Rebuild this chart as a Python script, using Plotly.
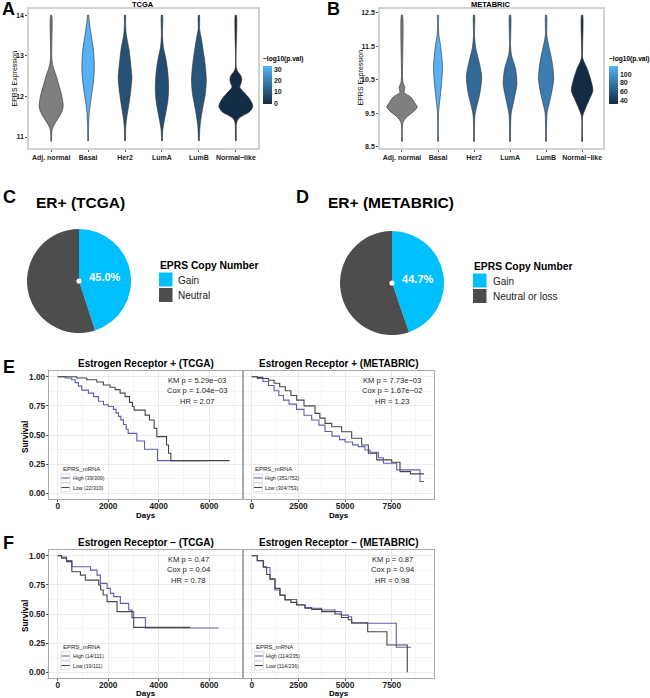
import plotly.graph_objects as go
from plotly.colors import sample_colorscale

W, H = 650, 698
FONT = "Liberation Sans, Arial, Helvetica, sans-serif"


def X(px):
    return px / W


def Y(py):
    return 1 - py / H


# ------------------------------------------------------------------ data
subtypes = ["Adj. normal", "Basal", "Her2", "LumA", "LumB", "Normal−like"]
tcga_logp = [None, 33.3, 9.0, 8.0, 10.0, -0.8]
metabric_logp = [None, 119.0, 72.0, 76.0, 85.0, 31.5]

# violin outlines: expression levels and half-widths
tcga_levels = [
    [10.89, 11.1, 11.2, 11.3, 11.42, 11.55, 11.65, 11.76, 11.9, 12.0, 12.15, 12.3, 12.48, 12.65, 12.83, 13.0, 14.0],
    [10.9, 11.3, 11.58, 11.83, 12.07, 12.4, 12.73, 13.14, 13.55, 13.85, 14.0],
    [10.9, 11.26, 11.5, 11.75, 12.07, 12.45, 12.73, 13.14, 13.55, 13.8, 14.0],
    [10.9, 11.2, 11.4, 11.66, 11.9, 12.2, 12.57, 12.9, 13.2, 13.5, 14.0],
    [10.9, 11.26, 11.5, 11.75, 12.07, 12.4, 12.73, 13.05, 13.4, 13.65, 14.0],
    [10.9, 11.3, 11.38, 11.46, 11.54, 11.63, 11.76, 11.94, 12.07, 12.23, 12.32, 12.42, 12.52, 12.6, 12.7, 14.0],
]
tcga_widths = [
    [0.012, 0.015, 0.03, 0.08, 0.16, 0.25, 0.3, 0.325, 0.31, 0.29, 0.25, 0.2, 0.145, 0.08, 0.03, 0.015, 0.012],
    [0.012, 0.015, 0.03, 0.063, 0.1, 0.15, 0.17, 0.145, 0.077, 0.03, 0.012],
    [0.012, 0.02, 0.05, 0.095, 0.145, 0.185, 0.16, 0.11, 0.03, 0.015, 0.012],
    [0.012, 0.025, 0.063, 0.117, 0.16, 0.18, 0.16, 0.11, 0.04, 0.015, 0.012],
    [0.012, 0.03, 0.063, 0.11, 0.175, 0.2, 0.175, 0.13, 0.07, 0.02, 0.012],
    [0.012, 0.015, 0.03, 0.08, 0.22, 0.38, 0.46, 0.37, 0.25, 0.105, 0.14, 0.16, 0.13, 0.06, 0.015, 0.012],
]
metabric_levels = [
    [8.65, 9.15, 9.25, 9.38, 9.53, 9.68, 9.83, 9.98, 10.12, 10.27, 10.4, 10.6, 12.43],
    [8.65, 9.5, 9.72, 10.12, 10.5, 10.9, 11.13, 11.53, 11.83, 12.1, 12.43],
    [8.65, 9.43, 9.73, 10.03, 10.38, 10.63, 11.03, 11.43, 11.8, 12.43],
    [8.65, 9.48, 9.73, 10.03, 10.38, 10.83, 11.23, 11.5, 12.43],
    [8.65, 9.53, 9.78, 10.13, 10.53, 11.03, 11.43, 11.83, 12.43],
    [8.65, 9.4, 9.48, 9.68, 9.93, 10.18, 10.48, 10.83, 11.13, 11.4, 12.43],
]
metabric_widths = [
    [0.012, 0.015, 0.04, 0.125, 0.3, 0.42, 0.34, 0.245, 0.06, 0.08, 0.03, 0.015, 0.012],
    [0.012, 0.015, 0.033, 0.074, 0.107, 0.125, 0.11, 0.07, 0.025, 0.013, 0.012],
    [0.012, 0.025, 0.08, 0.15, 0.2, 0.21, 0.14, 0.05, 0.015, 0.012],
    [0.012, 0.03, 0.075, 0.135, 0.19, 0.15, 0.04, 0.015, 0.012],
    [0.012, 0.03, 0.083, 0.157, 0.21, 0.167, 0.09, 0.02, 0.012],
    [0.012, 0.015, 0.035, 0.107, 0.21, 0.3, 0.245, 0.14, 0.02, 0.014, 0.012],
]
tcga_expr_ticks = [11, 12, 13, 14]
metabric_expr_ticks = [8.5, 9.5, 10.5, 11.5, 12.5]
tcga_cbar_ticks = [0, 10, 20, 30]
metabric_cbar_ticks = [40, 60, 80, 100]

# copy number pies
cn_labels_tcga = ["Gain", "Neutral"]
cn_share_tcga = [45.0, 55.0]
cn_labels_metabric = ["Gain", "Neutral or loss"]
cn_share_metabric = [44.7, 55.3]

# Kaplan-Meier curves (days, survival)
e_tcga_high_t = [0, 300, 555, 690, 820, 952, 1216, 1415, 1613, 1811, 2009, 2208, 2313, 2406, 2499, 2604, 2710, 2790, 3133, 3437, 3953, 5909]
e_tcga_high_s = [1.0, 0.99, 0.975, 0.95, 0.92, 0.886, 0.86, 0.83, 0.79, 0.76, 0.745, 0.72, 0.69, 0.66, 0.63, 0.59, 0.55, 0.514, 0.449, 0.377, 0.28, 0.28]
e_tcga_low_t = [0, 754, 1150, 1547, 1811, 2075, 2274, 2472, 2670, 2842, 2961, 3027, 3464, 3635, 3821, 3926, 4310, 4390, 4480, 6808]
e_tcga_low_s = [1.0, 0.99, 0.975, 0.955, 0.93, 0.91, 0.89, 0.86, 0.83, 0.78, 0.745, 0.714, 0.671, 0.629, 0.557, 0.486, 0.414, 0.343, 0.28, 0.28]

e_meta_high_t = [0, 300, 600, 900, 1200, 1450, 1700, 2000, 2400, 2800, 3212, 3600, 3924, 4300, 4700, 5000, 5400, 5707, 6065, 6335, 6780, 7048, 7762, 9010, 9224]
e_meta_high_s = [1.0, 0.985, 0.96, 0.925, 0.88, 0.84, 0.80, 0.765, 0.72, 0.67, 0.629, 0.585, 0.53, 0.49, 0.46, 0.44, 0.415, 0.40, 0.371, 0.352, 0.305, 0.257, 0.2, 0.1, 0.1]
e_meta_low_t = [0, 300, 600, 900, 1200, 1500, 1800, 2100, 2409, 2800, 3389, 3650, 3924, 4283, 4818, 5353, 5889, 6246, 6692, 7495, 7940, 8500, 9224]
e_meta_low_s = [1.0, 0.995, 0.985, 0.97, 0.945, 0.915, 0.88, 0.84, 0.80, 0.75, 0.686, 0.645, 0.60, 0.571, 0.528, 0.472, 0.414, 0.343, 0.286, 0.266, 0.185, 0.166, 0.166]

f_tcga_high_t = [0, 150, 350, 560, 1300, 1558, 1690, 1954, 2086, 2218, 2482, 2812, 2944, 3010, 3472, 6376]
f_tcga_high_s = [1.0, 0.99, 0.96, 0.906, 0.877, 0.834, 0.763, 0.72, 0.677, 0.649, 0.591, 0.534, 0.52, 0.469, 0.38, 0.38]
f_tcga_low_t = [0, 150, 350, 560, 900, 1096, 1624, 1700, 1800, 1954, 2350, 2944, 3010, 5250]
f_tcga_low_s = [1.0, 0.98, 0.95, 0.863, 0.834, 0.791, 0.749, 0.706, 0.663, 0.606, 0.52, 0.469, 0.385, 0.385]

f_meta_high_t = [0, 300, 621, 980, 1247, 1515, 1783, 2409, 2853, 3212, 3747, 4459, 4800, 5171, 5353, 7740, 8530]
f_meta_high_s = [1.0, 0.955, 0.9, 0.8, 0.706, 0.66, 0.625, 0.58, 0.555, 0.55, 0.534, 0.52, 0.49, 0.477, 0.42, 0.214, 0.214]
f_meta_low_t = [0, 300, 621, 800, 980, 1247, 1515, 1783, 2100, 2409, 2853, 3212, 3747, 4459, 4800, 5171, 5353, 6210, 7240, 8330]
f_meta_low_s = [1.0, 0.96, 0.906, 0.84, 0.8, 0.72, 0.663, 0.62, 0.6, 0.577, 0.55, 0.54, 0.52, 0.5, 0.47, 0.45, 0.425, 0.348, 0.234, 0.0]

km_titles = ["Estrogen Receptor + (TCGA)", "Estrogen Receptor + (METABRIC)",
             "Estrogen Receptor − (TCGA)", "Estrogen Receptor − (METABRIC)"]
km_stats = [
    ["KM p = 5.29e−03", "Cox p = 1.04e−03", "HR = 2.07"],
    ["KM p = 7.73e−03", "Cox p = 1.67e−02", "HR = 1.23"],
    ["KM p = 0.47", "Cox p = 0.04", "HR = 0.78"],
    ["KM p = 0.87", "Cox p = 0.94", "HR = 0.98"],
]
km_legends = [
    ["High (39/309)", "Low (22/310)"],
    ["High (351/752)", "Low (304/753)"],
    ["High (14/111)", "Low (19/111)"],
    ["High (114/235)", "Low (114/236)"],
]
tcga_day_ticks = [0, 2000, 4000, 6000]
meta_day_ticks = [0, 2500, 5000, 7500]
surv_ticks = [0, 0.25, 0.5, 0.75, 1.0]

# ------------------------------------------------------------------ styles
GRAD = [[0, "#132B43"], [1, "#56B1F7"]]
NA_GREY = "#7F7F7F"
GAIN = "#00BFFF"
NEUTRAL = "#4D4D4D"
HIGH_COL = "#5F5FAF"
LOW_COL = "#474747"

fig = go.Figure()
annotations = []
shapes = []


def text(x, y, s, size, bold=False, color="#000000", xanchor="center", yanchor="middle", angle=0):
    annotations.append(dict(
        x=X(x), y=Y(y), xref="paper", yref="paper", text=s, showarrow=False,
        font=dict(family=FONT, size=size, color=color, weight="bold" if bold else "normal"),
        xanchor=xanchor, yanchor=yanchor, textangle=angle, borderpad=0))


# ------------------------------------------------------------------ violins
def violin_panel(levels, widths, logp, xa, ya, cbar_left, cbar_ticks):
    vals = [v for v in logp if v is not None]
    vmin, vmax = min(vals), max(vals)
    for i, (ys, ws) in enumerate(zip(levels, widths)):
        if logp[i] is None:
            col = NA_GREY
        else:
            col = sample_colorscale(GRAD, [(logp[i] - vmin) / (vmax - vmin)])[0]
        xs = [i + w for w in ws] + [i - w for w in reversed(ws)]
        yy = list(ys) + list(reversed(ys))
        fig.add_trace(go.Scatter(
            x=xs, y=yy, mode="lines", fill="toself", fillcolor=col,
            line=dict(color="#2b2b2b", width=0.6, shape="spline", smoothing=0.8),
            xaxis=xa, yaxis=ya, hoverinfo="skip", showlegend=False))
    idx = [i for i, v in enumerate(logp) if v is not None]
    fig.add_trace(go.Scatter(
        x=idx, y=[levels[i][0] for i in idx], mode="markers",
        marker=dict(color=[logp[i] for i in idx], colorscale=GRAD, opacity=0, size=1,
                    showscale=True,
                    colorbar=dict(
                        title=dict(text="−log10(p.val)", side="top",
                                   font=dict(family=FONT, size=6.6, weight="bold")),
                        x=X(cbar_left), xanchor="left", y=Y(53), yanchor="top",
                        len=51 / H, lenmode="fraction", thickness=9, thicknessmode="pixels",
                        outlinewidth=0, tickvals=cbar_ticks, ticks="", xpad=0, ypad=0,
                        tickfont=dict(family=FONT, size=7, weight="bold", color="#222"))),
        xaxis=xa, yaxis=ya, hoverinfo="skip", showlegend=False))


violin_panel(tcga_levels, tcga_widths, tcga_logp, "x", "y", 263, tcga_cbar_ticks)
violin_panel(metabric_levels, metabric_widths, metabric_logp, "x2", "y2", 609, metabric_cbar_ticks)

vax = dict(showline=True, mirror=True, linecolor="#D3D3D3", linewidth=1.5, ticks="outside",
           ticklen=2, tickcolor="#555", showgrid=False, zeroline=False, automargin=False,
           tickfont=dict(family=FONT, size=7, weight="bold", color="#222"))
layout_axes = {}
layout_axes["xaxis"] = dict(vax, domain=[X(29), X(258)], range=[-0.6, 5.6], tickvals=list(range(6)),
                            ticktext=subtypes, anchor="y")
layout_axes["yaxis"] = dict(vax, domain=[Y(148), Y(9)], range=[10.73, 14.15], tickvals=tcga_expr_ticks,
                            anchor="x")
layout_axes["xaxis2"] = dict(vax, domain=[X(380), X(603)], range=[-0.61, 5.58], tickvals=list(range(6)),
                             ticktext=subtypes, anchor="y2")
layout_axes["yaxis2"] = dict(vax, domain=[Y(148), Y(9)], range=[8.46, 12.61], tickvals=metabric_expr_ticks,
                             ticktext=[f"{v:.1f}" for v in metabric_expr_ticks], anchor="x2")

text(143, 4.5, "TCGA", 7.5, bold=True)
text(491, 4.5, "METABRIC", 7.5, bold=True)
text(14.5, 78, "EPRS Expression", 7, angle=-90)
text(360.5, 78, "EPRS Expression", 7, angle=-90)

# ------------------------------------------------------------------ pies
def pie_panel(labels, shares, cx, cy, r, leg_x, leg_y, title, title_x):
    fig.add_trace(go.Pie(
        labels=labels, values=shares, sort=False, direction="clockwise", rotation=0,
        domain=dict(x=[X(cx - r), X(cx + r)], y=[Y(cy + r), Y(cy - r)]),
        marker=dict(colors=[GAIN, NEUTRAL], line=dict(width=0)),
        texttemplate=["%{percent:.1%}", ""], textposition="inside",
        insidetextorientation="horizontal",
        textfont=dict(family=FONT, size=11, color="white", weight="bold"),
        showlegend=False, hoverinfo="skip"))
    shapes.append(dict(type="circle", xref="paper", yref="paper",
                       x0=X(cx - 2.6), x1=X(cx + 2.6), y0=Y(cy + 2.6), y1=Y(cy - 2.6),
                       fillcolor="white", line=dict(width=0)))
    text(title_x, 203, title, 15.5, bold=True, xanchor="left")
    text(leg_x, leg_y, "EPRS Copy Number", 10.3, bold=True, xanchor="left")
    for k, (lab, col) in enumerate(zip(labels, [GAIN, NEUTRAL])):
        y0 = leg_y + 7.5 + k * 15.5
        shapes.append(dict(type="rect", xref="paper", yref="paper",
                           x0=X(leg_x), x1=X(leg_x + 13.5), y0=Y(y0 + 14), y1=Y(y0),
                           fillcolor=col, line=dict(width=0)))
        text(leg_x + 18.5, y0 + 7.5, lab, 10, xanchor="left", color="#222")


pie_panel(cn_labels_tcga, cn_share_tcga, 79, 281, 52, 159, 265, "ER+ (TCGA)", 35)
pie_panel(cn_labels_metabric, cn_share_metabric, 392, 283, 52, 473, 266, "ER+ (METABRIC)", 327)

# ------------------------------------------------------------------ survival
sax = dict(showline=True, mirror=True, linecolor="#A9A9A9", linewidth=1.2, zeroline=False,
           showgrid=True, gridcolor="#EBEBEB", gridwidth=0.8, automargin=False,
           ticks="outside", ticklen=2, tickcolor="#555", ticklabelstandoff=-3,
           tickfont=dict(family=FONT, size=8.3, weight="bold", color="#222"))
MINOR = dict(showgrid=True, gridcolor="#F5F5F5", gridwidth=0.5)

panels = [
    # (axis suffix, frame left, right, top, bottom, x range, x ticks, curves, show y labels)
    ("3", 49, 242, 371, 499, [-345, 7300], tcga_day_ticks,
     [(e_tcga_high_t, e_tcga_high_s), (e_tcga_low_t, e_tcga_low_s)], True),
    ("4", 244, 434, 371, 499, [-412, 9760], meta_day_ticks,
     [(e_meta_high_t, e_meta_high_s), (e_meta_low_t, e_meta_low_s)], False),
    ("5", 49, 242, 550, 678, [-345, 7300], tcga_day_ticks,
     [(f_tcga_high_t, f_tcga_high_s), (f_tcga_low_t, f_tcga_low_s)], True),
    ("6", 244, 434, 550, 678, [-412, 9760], meta_day_ticks,
     [(f_meta_high_t, f_meta_high_s), (f_meta_low_t, f_meta_low_s)], False),
]
stat_x = [197, 392, 188, 392]
legend_x = [61.5, 254, 61.5, 255]
legend_dy = [30, 30, 31, 31]
days_dy = [16, 16, 15.3, 15.3]

for p, (n, l, r, t, b, xr, xt, curves, showy) in enumerate(panels):
    step = xt[1] - xt[0]
    layout_axes["xaxis" + n] = dict(sax, domain=[X(l), X(r)], range=xr, tickvals=xt,
                                    minor=dict(MINOR, tickvals=[v + step / 2 for v in xt]),
                                    anchor="y" + n)
    ydict = dict(sax, domain=[Y(b), Y(t)], range=[-0.05, 1.05], tickvals=surv_ticks,
                 ticktext=[f"{v:.2f}" for v in surv_ticks], anchor="x" + n,
                 ticklabelstandoff=-1,
                 minor=dict(MINOR, tickvals=[0.125, 0.375, 0.625, 0.875]))
    if not showy:
        ydict.update(showticklabels=False, ticks="")
    layout_axes["yaxis" + n] = ydict
    for (tt, ss), col in zip(curves, [HIGH_COL, LOW_COL]):
        fig.add_trace(go.Scatter(x=tt, y=ss, mode="lines", line=dict(color=col, width=1.1, shape="hv"),
                                 xaxis="x" + n, yaxis="y" + n, hoverinfo="skip", showlegend=False))
    cxp = (l + r) / 2
    text(cxp, t - 8, km_titles[p], 10, bold=True)
    text(cxp, b + days_dy[p], "Days", 8, bold=True)
    if showy:
        text(25, (t + b) / 2 + 2, "Survival", 8.3, bold=True, angle=-90)
    for k, s in enumerate(km_stats[p]):
        text(stat_x[p], t + 9 + k * 10.5, s, 7.6, color="#222")
    lx = legend_x[p]
    ly = b - legend_dy[p]
    text(lx, ly, "EPRS_mRNA", 6, xanchor="left", color="#222")
    for k, (lab, col) in enumerate(zip(km_legends[p], [HIGH_COL, LOW_COL])):
        yc = ly + 9 + k * 9.5
        shapes.append(dict(type="rect", xref="paper", yref="paper", x0=X(lx - 0.5), x1=X(lx + 8.5),
                           y0=Y(yc + 4.3), y1=Y(yc - 4.3), fillcolor="white",
                           line=dict(color="#C8C8C8", width=0.6)))
        shapes.append(dict(type="line", xref="paper", yref="paper", x0=X(lx), x1=X(lx + 8),
                           y0=Y(yc), y1=Y(yc), line=dict(color=col, width=1.1)))
        text(lx + 10, yc, lab, 5.2, xanchor="left", color="#222")

# panel letters
for lab, x, y in [("A", 1, 9), ("B", 326, 9), ("C", 2, 197), ("D", 295, 197), ("E", 2, 367), ("F", 2, 543)]:
    text(x, y, lab, 18, bold=True, xanchor="left")

fig.update_layout(
    width=W, height=H, autosize=False,
    margin=dict(l=0, r=0, t=0, b=0, pad=0, autoexpand=False),
    paper_bgcolor="white", plot_bgcolor="white",
    font=dict(family=FONT, color="#000"),
    annotations=annotations, shapes=shapes, showlegend=False,
    **layout_axes,
)

fig.write_html("out.html", config={"displayModeBar": False},
               post_script="document.body.style.margin='0';document.body.style.overflow='hidden';")
